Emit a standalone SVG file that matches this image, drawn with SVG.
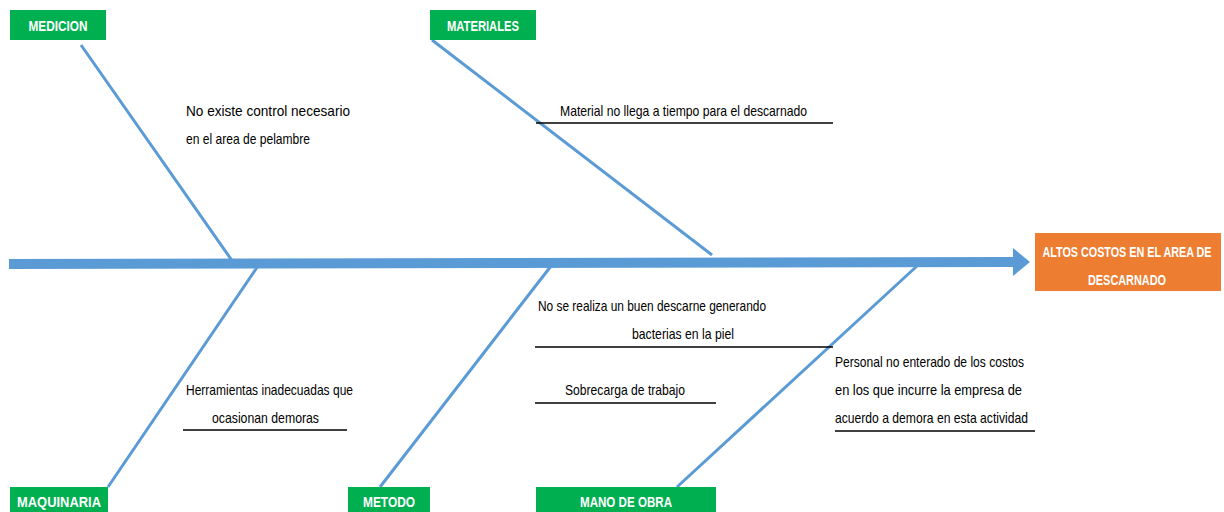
<svg xmlns="http://www.w3.org/2000/svg" width="1224" height="512" viewBox="0 0 1224 512">
  <style>
    .cat rect { fill: #00B050; }
    .cat text, .effect text { font-family: "Liberation Sans", Arial, sans-serif; font-weight: bold; font-size: 14px; fill: #ffffff; }
    .bone { stroke: #5B9BD5; stroke-width: 3; fill: none; }
    .cause { font-family: "Liberation Sans", Arial, sans-serif; font-size: 15px; fill: #000000; }
    .rule { stroke: #000000; stroke-width: 1.5; }
  </style>

  <!-- connectors: spine with arrowhead, and the category bones -->
  <g id="connectors">
    <polygon points="9,259 1013,257 1013,248 1030,262 1013,276 1013,267 9,269" fill="#5B9BD5"/>
    <line class="bone" x1="81" y1="45" x2="233" y2="262"/>
    <line class="bone" x1="432" y1="40" x2="712" y2="255"/>
    <line class="bone" x1="108" y1="487" x2="258" y2="266"/>
    <line class="bone" x1="380" y1="487" x2="551" y2="266"/>
    <line class="bone" x1="677" y1="487" x2="917" y2="266"/>
  </g>

  <!-- category headers -->
  <g id="medicion" class="cat">
    <rect x="10" y="10" width="96" height="30"/>
    <text x="58" y="31" text-anchor="middle" textLength="59" lengthAdjust="spacingAndGlyphs">MEDICION</text>
  </g>
  <g id="materiales" class="cat">
    <rect x="430" y="10" width="106" height="30"/>
    <text x="483" y="31" text-anchor="middle" textLength="72" lengthAdjust="spacingAndGlyphs">MATERIALES</text>
  </g>
  <g id="maquinaria" class="cat">
    <rect x="10" y="487" width="98" height="25"/>
    <text x="59" y="507" text-anchor="middle" textLength="84" lengthAdjust="spacingAndGlyphs">MAQUINARIA</text>
  </g>
  <g id="metodo" class="cat">
    <rect x="348" y="487" width="82" height="25"/>
    <text x="389" y="507" text-anchor="middle" textLength="52" lengthAdjust="spacingAndGlyphs">METODO</text>
  </g>
  <g id="mano-de-obra" class="cat">
    <rect x="536" y="487" width="180" height="25"/>
    <text x="626" y="507" text-anchor="middle" textLength="92" lengthAdjust="spacingAndGlyphs">MANO DE OBRA</text>
  </g>

  <!-- effect -->
  <g id="efecto" class="effect">
    <rect x="1035" y="233" width="186" height="58" fill="#ED7D31"/>
    <text x="1127" y="257" text-anchor="middle" textLength="169" lengthAdjust="spacingAndGlyphs">ALTOS COSTOS EN EL AREA DE</text>
    <text x="1127" y="285" text-anchor="middle" textLength="78" lengthAdjust="spacingAndGlyphs">DESCARNADO</text>
  </g>

  <!-- causes -->
  <g id="causa-medicion">
    <text class="cause" x="186" y="116" textLength="164" lengthAdjust="spacingAndGlyphs">No existe control necesario</text>
    <text class="cause" x="186" y="144" textLength="124" lengthAdjust="spacingAndGlyphs">en el area de pelambre</text>
  </g>
  <g id="causa-materiales">
    <text class="cause" x="560" y="116" textLength="247" lengthAdjust="spacingAndGlyphs">Material no llega a tiempo para el descarnado</text>
    <line class="rule" x1="536" y1="123" x2="833" y2="123"/>
  </g>
  <g id="causa-maquinaria">
    <text class="cause" x="186" y="395" textLength="167" lengthAdjust="spacingAndGlyphs">Herramientas inadecuadas que</text>
    <text class="cause" x="212" y="423" textLength="107" lengthAdjust="spacingAndGlyphs">ocasionan demoras</text>
    <line class="rule" x1="183" y1="430" x2="347" y2="430"/>
  </g>
  <g id="causa-metodo-1">
    <text class="cause" x="538" y="311" textLength="228" lengthAdjust="spacingAndGlyphs">No se realiza un buen descarne generando</text>
    <text class="cause" x="632" y="339" textLength="102" lengthAdjust="spacingAndGlyphs">bacterias en la piel</text>
    <line class="rule" x1="535" y1="347" x2="833" y2="347"/>
  </g>
  <g id="causa-metodo-2">
    <text class="cause" x="565" y="395" textLength="120" lengthAdjust="spacingAndGlyphs">Sobrecarga de trabajo</text>
    <line class="rule" x1="535" y1="403" x2="716" y2="403"/>
  </g>
  <g id="causa-mano-de-obra">
    <text class="cause" x="835" y="367" textLength="189" lengthAdjust="spacingAndGlyphs">Personal no enterado de los costos</text>
    <text class="cause" x="835" y="395" textLength="187" lengthAdjust="spacingAndGlyphs">en los que incurre la empresa de</text>
    <text class="cause" x="835" y="423" textLength="193" lengthAdjust="spacingAndGlyphs">acuerdo a demora en esta actividad</text>
    <line class="rule" x1="835" y1="431" x2="1035" y2="431"/>
  </g>
</svg>
